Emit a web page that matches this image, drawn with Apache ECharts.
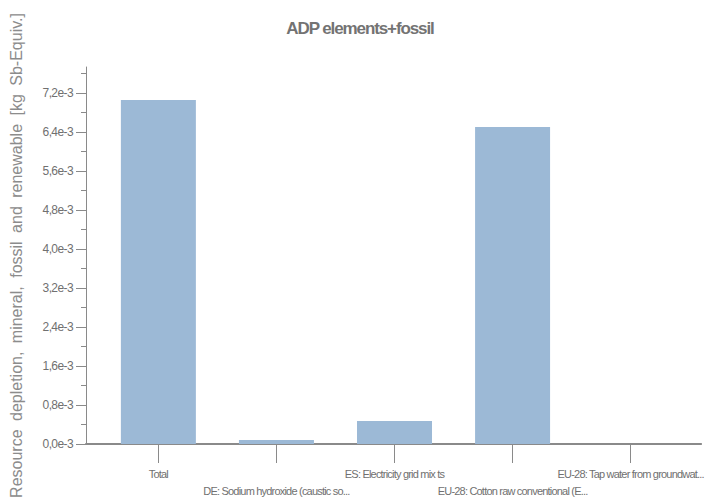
<!DOCTYPE html>
<html>
<head>
<meta charset="utf-8">
<script src="https://cdn.jsdelivr.net/npm/echarts@6/dist/echarts.min.js"></script>
<style>
html,body{margin:0;padding:0;background:#fff;}
#c{width:720px;height:504px;}
#c text{letter-spacing:-0.8px;}
</style>
</head>
<body>
<div id="c"></div>
<script>
const titleText = 'ADP elements+fossil';
const yAxisName = 'Resource depletion, mineral, fossil and renewable [kg Sb-Equiv.]';
const categories = ['Total', 'DE: Sodium hydroxide (caustic so...', 'ES: Electricity grid mix ts', 'EU-28: Cotton raw conventional (E...', 'EU-28: Tap water from groundwat...'];
const values = [0.007056, 0.000082, 0.000472, 0.006503, 0.000002];
const yMajorTicks = [0, 0.0008, 0.0016, 0.0024, 0.0032, 0.0040, 0.0048, 0.0056, 0.0064, 0.0072];
const yMinorTicks = [0.0004, 0.0012, 0.0020, 0.0028, 0.0036, 0.0044, 0.0052, 0.0060, 0.0068, 0.0076];
const yMax = 0.007733;

const catIdx = categories.map((c, i) => i);
const evenIdx = catIdx.filter(i => i % 2 === 0);
const oddIdx = catIdx.filter(i => i % 2 === 1);
const chart = echarts.init(document.getElementById('c'), null, { renderer: 'svg' });
const font = '"Liberation Sans", Arial, sans-serif';
const xBase = {
  type: 'value', min: -0.613, max: 4.597, position: 'bottom',
  splitLine: { show: false }
};
const xLabelBase = {
  hideOverlap: false, fontFamily: font, fontSize: 11, color: '#707070',
  formatter: v => categories[Math.round(v)]
};
chart.setOption({
  animation: false,
  backgroundColor: '#ffffff',
  title: {
    text: titleText, left: 'center', top: 15,
    textStyle: { fontFamily: font, fontSize: 17, fontWeight: 'bold', color: '#737373' }
  },
  grid: { left: 82, right: 18, top: 67, bottom: 60 },
  xAxis: [Object.assign({}, xBase, {
    axisLine: { show: true, onZero: false, lineStyle: { color: '#8a8a8a', width: 2 } },
    axisTick: { show: true, customValues: catIdx, length: 19, lineStyle: { color: '#8a8a8a', width: 1 } },
    axisLabel: Object.assign({}, xLabelBase, { customValues: evenIdx, margin: 24 })
  }), Object.assign({}, xBase, {
    axisLine: { show: false, onZero: false },
    axisTick: { show: false },
    axisLabel: Object.assign({}, xLabelBase, { customValues: oddIdx, margin: 41 })
  })],
  yAxis: [{
    type: 'value', min: 0, max: yMax,
    name: yAxisName, nameLocation: 'middle', nameGap: 62,
    nameTextStyle: { fontFamily: font, fontSize: 16, color: '#8c8c8c' },
    splitLine: { show: false },
    axisLine: { show: true, onZero: false, lineStyle: { color: '#8a8a8a', width: 1 } },
    axisTick: { show: true, customValues: yMajorTicks, length: 10, lineStyle: { color: '#8a8a8a' } },
    axisLabel: {
      customValues: yMajorTicks, margin: 13,
      fontFamily: font, fontSize: 12, color: '#707070',
      formatter: v => (v * 1000).toFixed(1).replace('.', ',') + 'e-3'
    }
  }, {
    type: 'value', min: 0, max: yMax, position: 'left',
    splitLine: { show: false },
    axisLine: { show: false, onZero: false },
    axisTick: { show: true, customValues: yMinorTicks, length: 5, lineStyle: { color: '#8a8a8a' } },
    axisLabel: { show: false }
  }],
  series: [{
    type: 'bar', xAxisIndex: 0, yAxisIndex: 0, barWidth: 75,
    itemStyle: { color: '#9cb9d6' },
    data: values.map((v, i) => [i, v])
  }]
});

function styleTexts() {
  document.querySelectorAll('#c text').forEach(t => {
    const s = t.textContent;
    if (s === yAxisName) { t.style.letterSpacing = '0px'; t.style.wordSpacing = '4px'; }
    else if (s === titleText) { t.style.letterSpacing = '-1.1px'; }
    else if (/e-3$/.test(s)) { t.style.letterSpacing = '-0.6px'; }
  });
}
styleTexts();
chart.on('finished', styleTexts);
</script>
</body>
</html>
